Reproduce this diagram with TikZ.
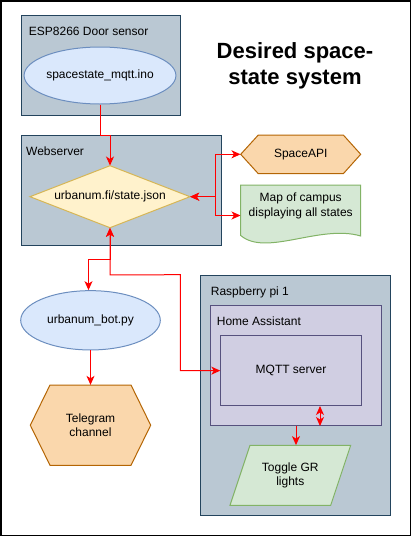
\documentclass[tikz,border=0pt]{standalone}
\usepackage{fontspec}
\setmainfont{Liberation Sans}
\usetikzlibrary{shapes.geometric,arrows.meta,calc}
\definecolor{contF}{HTML}{BAC8D3}
\definecolor{contD}{HTML}{23445D}
\definecolor{ellF}{HTML}{DAE8FC}
\definecolor{ellD}{HTML}{6C8EBF}
\definecolor{diaF}{HTML}{FFF2CC}
\definecolor{diaD}{HTML}{D6B656}
\definecolor{hexF}{HTML}{FAD7AC}
\definecolor{hexD}{HTML}{B46504}
\definecolor{grnF}{HTML}{D5E8D4}
\definecolor{grnD}{HTML}{82B366}
\definecolor{purF}{HTML}{D0CEE2}
\definecolor{purD}{HTML}{56517E}
\definecolor{edgeC}{HTML}{FF0000}
\begin{document}
\begin{tikzpicture}[x=1pt,y=-1pt,
  font=\fontsize{12}{14.4}\selectfont,
  cont/.style={draw=contD, fill=contF, line width=1pt, anchor=north west, inner sep=0pt},
  purbox/.style={draw=purD, fill=purF, line width=1pt, anchor=north west, inner sep=0pt},
  lbl/.style={anchor=base west, inner sep=0pt},
  ellnode/.style={ellipse, draw=ellD, fill=ellF, line width=1pt, inner sep=0pt},
  txtnode/.style={inner sep=0pt, align=center},
  hexs/.style={draw=hexD, fill=hexF, line width=1pt, line join=miter},
  dias/.style={draw=diaD, fill=diaF, line width=1pt},
  grns/.style={draw=grnD, fill=grnF, line width=1pt},
  tip/.tip={Stealth[length=9pt,width=8pt,inset=2.5pt]},
  edge/.style={draw=edgeC, line width=1pt, -tip},
  edgeboth/.style={draw=edgeC, line width=1pt, tip-tip}
]
\useasboundingbox (0,0) rectangle (411,536);
\draw[black, line width=1.5pt] (0.75,0.75) rectangle (410.25,535.25);

% ESP8266 container
\node[cont, minimum width=159.6pt, minimum height=100pt] (esp) at (20.7,15.3) {};
\node[lbl] (esplbl) at (28.7,35) {ESP8266 Door sensor};
\node[ellnode, minimum width=140pt, minimum height=57pt] (spacestate) at (100,75.5) {spacestate\_mqtt.ino};

% Title
\node[txtnode, font=\bfseries\fontsize{22}{26}\selectfont] (title) at (295,66) {Desired space-\\state system};

% Webserver container
\node[cont, minimum width=200pt, minimum height=110pt] (web) at (20.7,135.3) {};
\node[lbl] (weblbl) at (26,155.3) {Webserver};
\draw[dias] (30,196.7) -- (110,165.7) -- (190,196.7) -- (110,227.7) -- cycle;
\node[txtnode, minimum width=160pt, minimum height=62pt] (state) at (110,196.7) {urbanum.fi/state.json};

% SpaceAPI
\draw[hexs] (240.7,154.3) -- (258.3,135) -- (343.3,135) -- (360.7,154.3) -- (343.3,173.7) -- (258.3,173.7) -- cycle;
\node[txtnode, minimum width=120pt, minimum height=38.7pt] (spaceapi) at (300.7,154.3) {SpaceAPI};

% Map document
\draw[grns] (240.7,185) -- (360.7,185) -- (360.7,236) .. controls (320,224) and (266,257) .. (240.7,235.5) -- cycle;
\node[txtnode, minimum width=120pt, minimum height=60pt] (map) at (300.7,215.5) {};
\node[txtnode] (maptxt) at (300.7,206) {Map of campus\\displaying all states};

% Bot and Telegram
\node[ellnode, minimum width=139.6pt, minimum height=59.3pt] (bot) at (90.5,320.3) {urbanum\_bot.py};
\draw[hexs] (30.3,425.2) -- (50,385) -- (131,385) -- (150.7,425.2) -- (131,465.3) -- (50,465.3) -- cycle;
\node[txtnode, minimum width=120.4pt, minimum height=80.3pt] (telegram) at (90.5,425.2) {Telegram\\channel};

% Raspberry pi
\node[cont, minimum width=190pt, minimum height=240pt] (rpi) at (200.3,275.3) {};
\node[lbl] (rpilbl) at (210.7,295.3) {Raspberry pi 1};
\node[purbox, minimum width=170.4pt, minimum height=119.7pt] (ha) at (210.3,305.3) {};
\node[lbl] (halbl) at (216.7,325.3) {Home Assistant};
\node[purbox, minimum width=140.4pt, minimum height=69.7pt] (mqttbox) at (220.3,335.3) {};
\node[txtnode] (mqtt) at (mqttbox.center) {MQTT server};
\draw[grns] (250,445.3) -- (350.7,445.3) -- (330.7,505.3) -- (230,505.3) -- cycle;
\node[txtnode, minimum width=120.7pt, minimum height=60pt] (toggle) at (290.3,475.3) {Toggle GR\\lights};

% Connectors
\draw[edge] (spacestate.south) -- ++(0,31) -| (state.north);
\draw[edgeboth] (state.east) -- ++(25.7,0) |- (spaceapi.west);
\draw[edgeboth] (state.east) -- ++(25.7,0) |- (map.west);
\draw[edgeboth] (state.south) -- ++(0,31.6) -| ([xshift=-2pt]bot.north);
\draw[edgeboth] (state.south) -- ++(0,47) -- (180.3,274.7) |- (mqttbox.west);
\draw[edge] (bot.south) -- (telegram.north);
\draw[edge] (ha.south) -- (ha.south |- toggle.north);
\draw[edgeboth] ([xshift=29pt]mqttbox.south) -- ([xshift=29pt]mqttbox.south |- ha.south);
\end{tikzpicture}
\end{document}
